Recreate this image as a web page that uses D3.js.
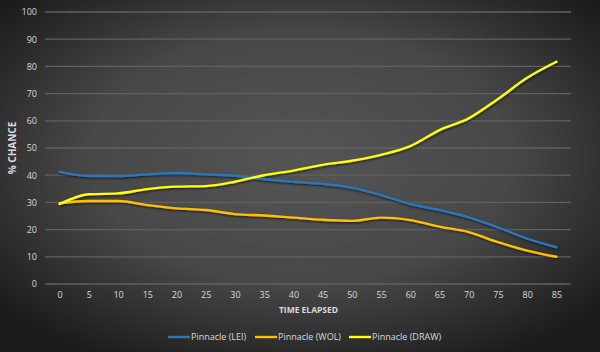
<!DOCTYPE html>
<html><head><meta charset="utf-8">
<script src="https://cdn.jsdelivr.net/npm/d3@7"></script>
<style>html,body{margin:0;padding:0;background:#2a2a2a;}svg{display:block;}</style>
</head><body>
<script>
const categories = [0,5,10,15,20,25,30,35,40,45,50,55,60,65,70,75,80,85];
const lei  = [41.2,39.7,39.7,40.3,40.8,40.3,39.8,38.5,37.6,36.8,35.4,32.7,29.4,27.2,24.5,20.8,16.7,13.5];
const wol  = [29.7,30.5,30.5,29.0,27.8,27.2,25.7,25.2,24.4,23.6,23.2,24.4,23.5,21.1,19.1,15.4,12.3,10.0];
const draw = [29.4,33.0,33.3,34.9,35.8,36.0,37.6,40.0,41.7,43.8,45.3,47.5,50.7,56.6,60.9,68.0,75.8,81.7];
const yTicks = [0,10,20,30,40,50,60,70,80,90,100];
const seriesNames = ["Pinnacle (LEI)","Pinnacle (WOL)","Pinnacle (DRAW)"];
const seriesColors = ["#2e75b6","#ffc000","#ffff00"];
const series = [lei, wol, draw];

const W=600,H=352;
const svg=d3.select("body").append("svg").attr("width",W).attr("height",H);
const defs=svg.append("defs");
const grad=defs.append("radialGradient").attr("id","bg").attr("cx","50%").attr("cy","45%").attr("r","65%");
grad.append("stop").attr("offset","0%").attr("stop-color","#555555");
grad.append("stop").attr("offset","55%").attr("stop-color","#474747");
grad.append("stop").attr("offset","100%").attr("stop-color","#1c1c1c");
const f=defs.append("filter").attr("id","sh").attr("x","-5%").attr("y","-20%").attr("width","110%").attr("height","140%");
f.append("feDropShadow").attr("dx",0.8).attr("dy",1.2).attr("stdDeviation",1).attr("flood-color","#000").attr("flood-opacity",0.7);
svg.append("rect").attr("width",W).attr("height",H).attr("fill","url(#bg)");

const x=d3.scalePoint().domain(categories).range([45,571]).padding(0.5);
const y=d3.scaleLinear().domain([0,100]).range([284,12]);
const font="'Open Sans', 'Liberation Sans', sans-serif";

// grid
svg.append("g").selectAll("line").data(yTicks).join("line")
  .attr("x1",45).attr("x2",571).attr("y1",d=>y(d)).attr("y2",d=>y(d))
  .attr("stroke","#606060").attr("stroke-width",1.3);

// y axis labels
const ya=svg.append("g").attr("transform","translate(37,0)")
  .call(d3.axisLeft(y).tickValues(yTicks).tickSize(0).tickPadding(0));
ya.select(".domain").remove();
ya.selectAll("text").attr("fill","#d9d9d9").style("font-family",font).style("font-size","9px");

// x axis labels
const xa=svg.append("g").attr("transform","translate(0,292)")
  .call(d3.axisBottom(x).tickSize(0).tickPadding(0));
xa.select(".domain").remove();
xa.selectAll("text").attr("fill","#d9d9d9").style("font-family",font).style("font-size","9px");

svg.append("text").attr("x",308.5).attr("y",313).attr("text-anchor","middle")
  .attr("fill","#d9d9d9").style("font-family",font).style("font-size","8.5px").style("font-weight","bold")
  .text("TIME ELAPSED");
svg.append("text").attr("transform","translate(16,148) rotate(-90)").attr("text-anchor","middle")
  .attr("fill","#d9d9d9").style("font-family",font).style("font-size","10px").style("font-weight","bold")
  .text("% CHANCE");

// lines
const line=d3.line().x((d,i)=>x(categories[i])).y(d=>y(d)).curve(d3.curveMonotoneX);
svg.append("g").attr("filter","url(#sh)").selectAll("path").data(series).join("path")
  .attr("d",d=>line(d)).attr("fill","none").attr("stroke",(d,i)=>seriesColors[i])
  .attr("stroke-width",2.4).attr("stroke-linejoin","round").attr("stroke-linecap","round");

// legend
const legX=[168,255,349];
const lg=svg.append("g").selectAll("g").data(seriesNames).join("g")
  .attr("transform",(d,i)=>`translate(${legX[i]},337)`);
lg.append("line").attr("x1",0).attr("x2",22).attr("stroke",(d,i)=>seriesColors[i]).attr("stroke-width",2.4);
lg.append("text").attr("x",23).attr("dy","0.35em").attr("fill","#d9d9d9")
  .style("font-family",font).style("font-size","9px").text(d=>d);
</script>
</body></html>
